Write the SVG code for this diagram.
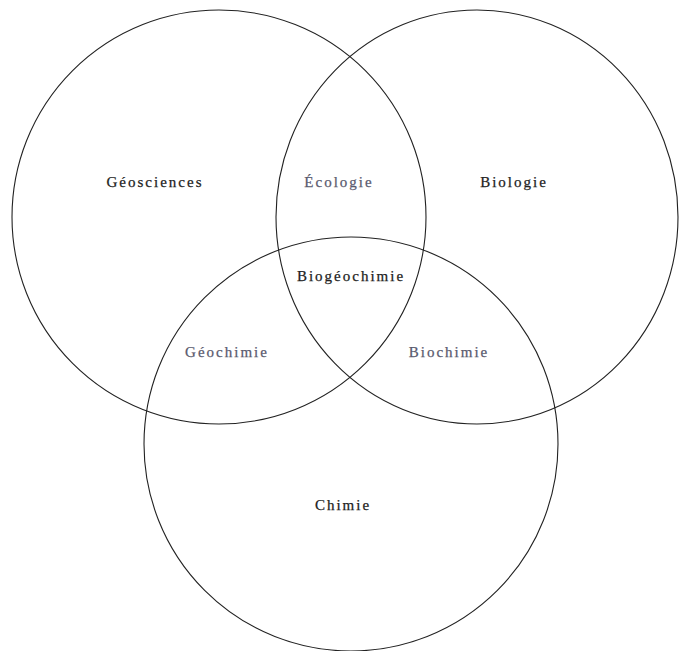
<svg xmlns="http://www.w3.org/2000/svg" width="680" height="651" viewBox="0 0 680 651">
<style>
.c{fill:none;stroke:#222;stroke-width:1.1}
.t{font-family:"Liberation Serif","DejaVu Serif","Times New Roman",serif;font-size:15px;letter-spacing:2px;text-anchor:middle;fill:#222;stroke:#222;stroke-width:0.25}
.l{fill:#5a5a6e;stroke:#5a5a6e}
</style>
<rect width="680" height="651" fill="#fff"/>
<g id="connectors"></g>
<g id="geosciences"><circle class="c" cx="219" cy="217" r="207"/><text class="t" x="155" y="187">Géosciences</text></g>
<g id="biologie"><ellipse class="c" cx="477" cy="217" rx="201" ry="207"/><text class="t" x="514" y="187">Biologie</text></g>
<g id="chimie"><circle class="c" cx="351" cy="444" r="207"/><text class="t" x="343" y="510">Chimie</text></g>
<g id="ecologie"><text class="t l" x="339" y="187">Écologie</text></g>
<g id="biogeochimie"><text class="t" x="351" y="281">Biogéochimie</text></g>
<g id="geochimie"><text class="t l" x="227" y="357">Géochimie</text></g>
<g id="biochimie"><text class="t l" x="449" y="357">Biochimie</text></g>
</svg>
